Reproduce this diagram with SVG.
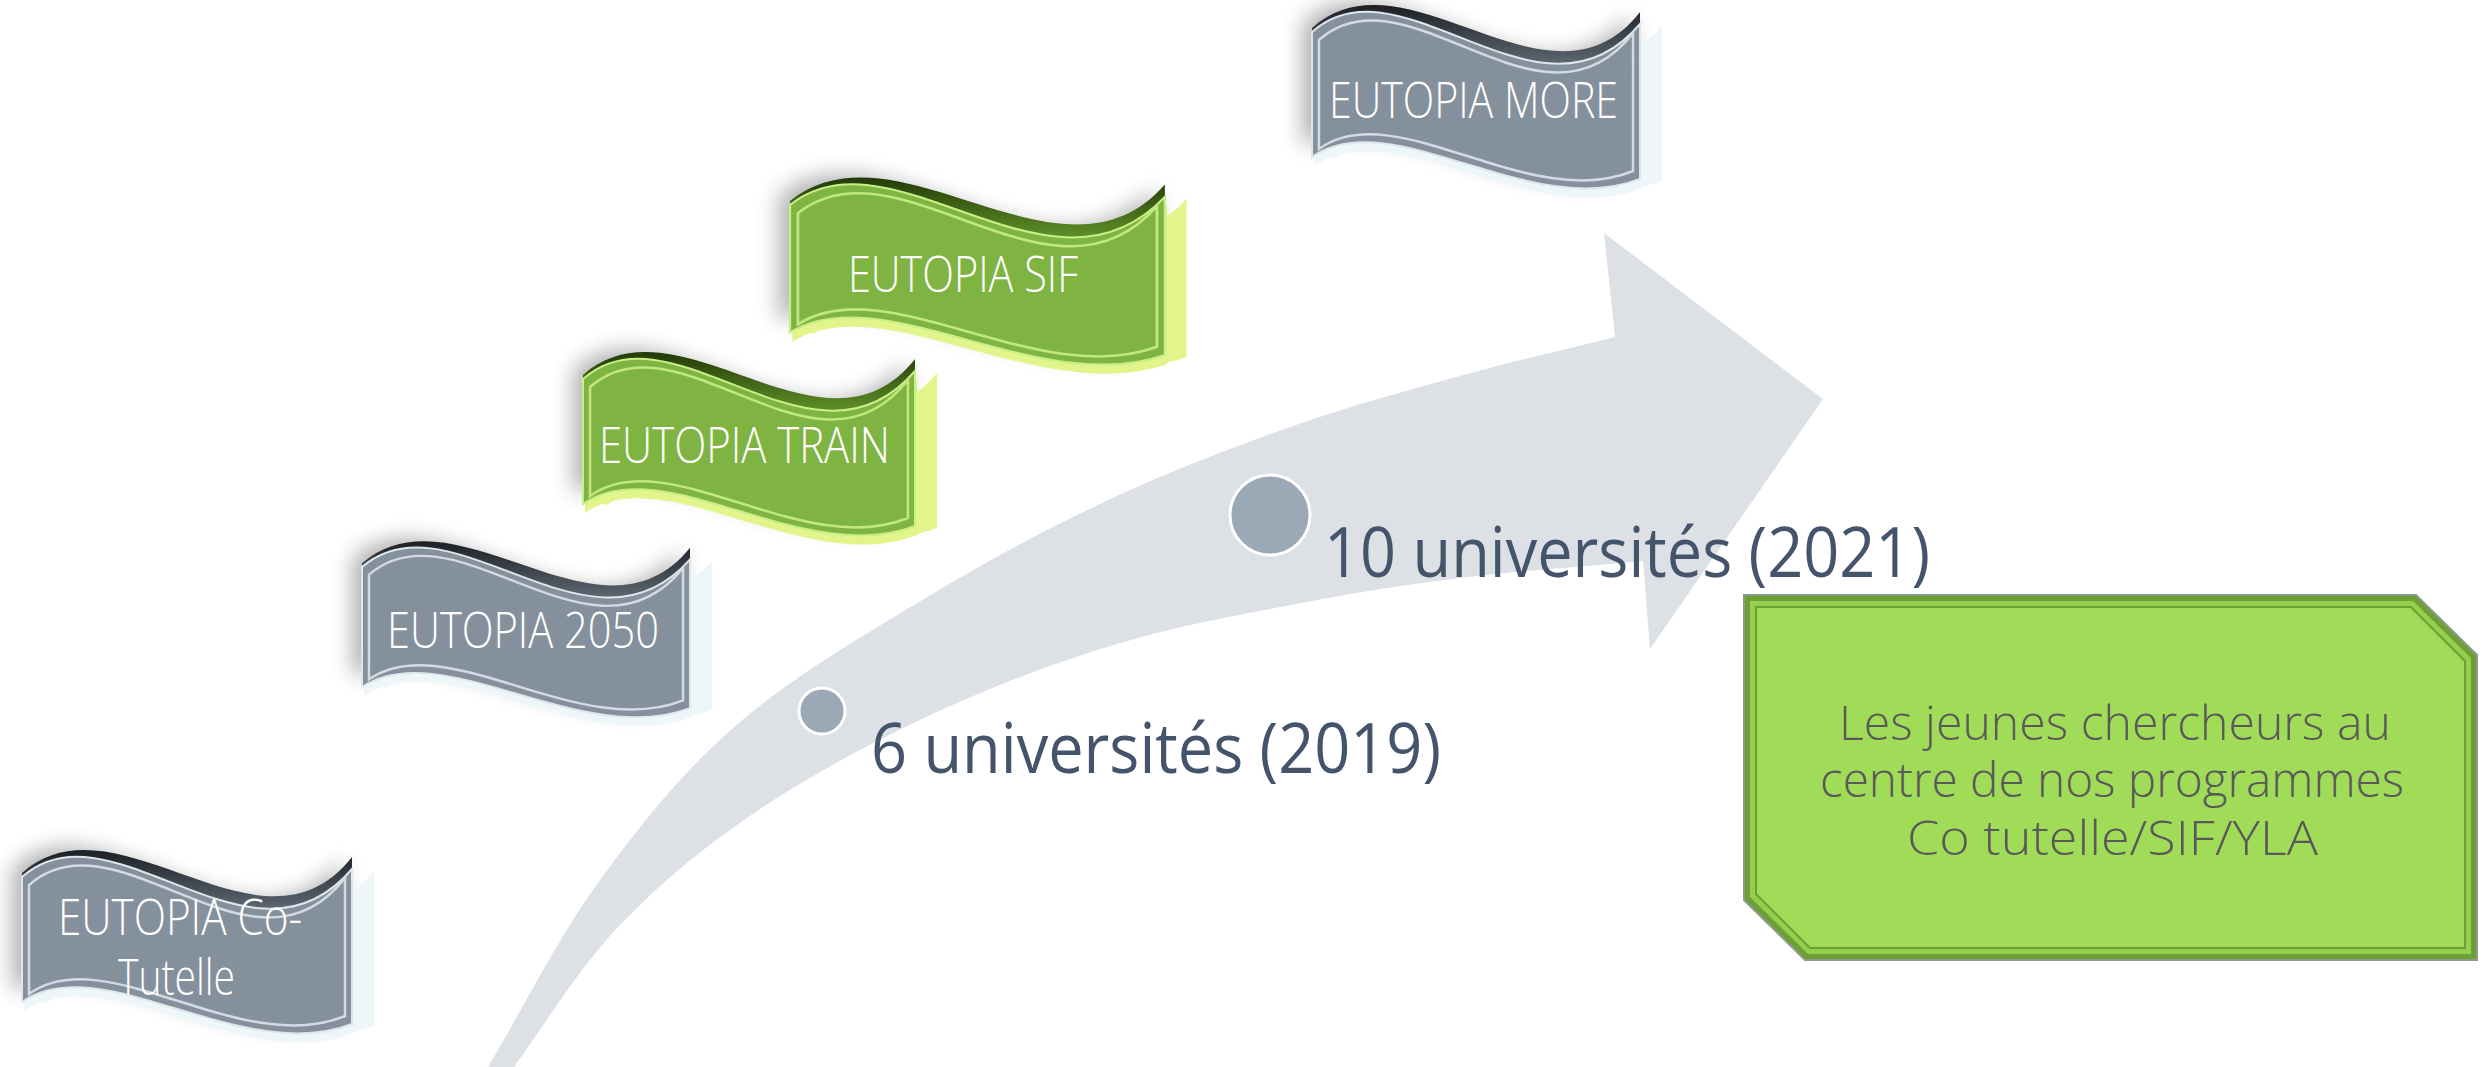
<svg xmlns="http://www.w3.org/2000/svg" xmlns:xlink="http://www.w3.org/1999/xlink" width="2483" height="1067" viewBox="0 0 2483 1067">
<defs>
  <path id="bf" d="M0,0 C90,-80 230,110 330,-8 L330,147 C220,190 80,70 0,125 Z"/>
  <path id="bt" d="M0,-4 C95,-88 240,95 330,-20 L330,-8 C230,110 90,-80 0,0 Z"/>
  <path id="bi" d="M7,8 C95,-70 232,118 323,1 L323,139 C218,182 84,62 7,117 Z"/>
  <filter id="blur" x="-20%" y="-30%" width="140%" height="160%"><feGaussianBlur stdDeviation="11"/></filter>
  <linearGradient id="darkG" x1="0" y1="0" x2="0" y2="1"><stop offset="0" stop-color="#1c2024"/><stop offset="1" stop-color="#5d6772"/></linearGradient>
  <linearGradient id="darkV" x1="0" y1="0" x2="0" y2="1"><stop offset="0" stop-color="#223a08"/><stop offset="1" stop-color="#5f9028"/></linearGradient>
  <style>
    .shadow{fill:#000;opacity:0.32;filter:url(#blur)}
    .g .dark{fill:url(#darkG)}
    .g .side{fill:#eef6f9}
    .g .face{fill:#84909c;stroke:#dfe7ec;stroke-width:2}
    .g .inner{fill:none;stroke:#d3dbe2;stroke-width:2.5}
    .v .dark{fill:url(#darkV)}
    .v .side{fill:#e2f58a}
    .v .face{fill:#7fb443;stroke:#c8ee86;stroke-width:2}
    .v .inner{fill:none;stroke:#c2e77e;stroke-width:2.5}
    .lbl{font-family:"Open Sans","Liberation Sans",sans-serif;font-weight:300;font-size:50px;fill:#ffffff}
    .uni{font-family:"Open Sans","Liberation Sans",sans-serif;fill:#44546a}
    .box{font-family:"Open Sans","Liberation Sans",sans-serif;font-weight:300;font-size:48px;fill:#595959}
    .dot{fill:#9aa9b5;stroke:#ffffff;stroke-width:3}
  </style>
</defs>
<rect width="2483" height="1067" fill="#ffffff"/>

<g id="connectors">
  <path id="arrow" fill="#dde1e6" d="M488,1067 C525,1005 558,937.5 600,880 C642,822.5 683.5,770.3 740,722 C796.5,673.7 876.2,627.7 939,590 C1001.8,552.3 1057.5,523.5 1117,496 C1176.5,468.5 1238.8,445 1296,425 C1353.2,405 1406.8,390.7 1460,376 C1513.2,361.3 1563.3,350 1615,337 L1604,233 L1823,399 L1650,649 L1643,561 C1582,566.7 1517.8,570.8 1460,578 C1402.2,585.2 1353.2,593 1296,604 C1238.8,615 1176.5,626.2 1117,644 C1057.5,661.8 998.5,683.5 939,711 C879.5,738.5 813.2,773.3 760,809 C706.8,844.7 661,882 620,925 C579,968 548,1019.7 514,1067 Z"/>
</g>

<g id="milestone-2019">
  <circle class="dot" cx="822" cy="711" r="23"/>
  <text class="uni" x="871" y="773" font-size="69" textLength="570" lengthAdjust="spacingAndGlyphs">6 universités (2019)</text>
</g>
<g id="milestone-2021">
  <circle class="dot" cx="1270" cy="515" r="40"/>
  <text class="uni" x="1324" y="577" font-size="70" textLength="606" lengthAdjust="spacingAndGlyphs">10 universités (2021)</text>
</g>

<g id="banner-cotutelle" class="g">
  <g transform="translate(22,877)">
    <use href="#bf" class="shadow" transform="translate(-9,-9)"/>
    <use href="#bf" class="side" transform="translate(22,2)"/>
    <use href="#bf" class="side" transform="translate(2,9)"/>
    <use href="#bt" class="dark"/>
    <use href="#bf" class="face"/>
    <use href="#bi" class="inner"/>
  </g>
  <text class="lbl" x="58" y="935" textLength="244" lengthAdjust="spacingAndGlyphs">EUTOPIA Co-</text>
  <text class="lbl" x="118" y="995" textLength="117" lengthAdjust="spacingAndGlyphs">Tutelle</text>
</g>

<g id="banner-2050" class="g">
  <g transform="translate(362,567) scale(0.994,0.96)">
    <use href="#bf" class="shadow" transform="translate(-9,-9)"/>
    <use href="#bf" class="side" transform="translate(22,2)"/>
    <use href="#bf" class="side" transform="translate(2,9)"/>
    <use href="#bt" class="dark"/>
    <use href="#bf" class="face"/>
    <use href="#bi" class="inner"/>
  </g>
  <text class="lbl" x="387" y="648" textLength="272" lengthAdjust="spacingAndGlyphs">EUTOPIA 2050</text>
</g>

<g id="banner-train" class="v">
  <g transform="translate(583,379) scale(1.006,1.0)">
    <use href="#bf" class="shadow" transform="translate(-9,-9)"/>
    <use href="#bf" class="side" transform="translate(22,2)"/>
    <use href="#bf" class="side" transform="translate(2,9)"/>
    <use href="#bt" class="dark"/>
    <use href="#bf" class="face"/>
    <use href="#bi" class="inner"/>
  </g>
  <text class="lbl" x="599" y="463" textLength="291" lengthAdjust="spacingAndGlyphs">EUTOPIA TRAIN</text>
</g>

<g id="banner-sif" class="v">
  <g transform="translate(790,205) scale(1.136,1.02)">
    <use href="#bf" class="shadow" transform="translate(-9,-9)"/>
    <use href="#bf" class="side" transform="translate(19,2)"/>
    <use href="#bf" class="side" transform="translate(2,9)"/>
    <use href="#bt" class="dark"/>
    <use href="#bf" class="face"/>
    <use href="#bi" class="inner"/>
  </g>
  <text class="lbl" x="848" y="292" textLength="230" lengthAdjust="spacingAndGlyphs">EUTOPIA SIF</text>
</g>

<g id="banner-more" class="g">
  <g transform="translate(1312,32) scale(0.994,1.0)">
    <use href="#bf" class="shadow" transform="translate(-9,-9)"/>
    <use href="#bf" class="side" transform="translate(22,2)"/>
    <use href="#bf" class="side" transform="translate(2,9)"/>
    <use href="#bt" class="dark"/>
    <use href="#bf" class="face"/>
    <use href="#bi" class="inner"/>
  </g>
  <text class="lbl" x="1329" y="118" textLength="289" lengthAdjust="spacingAndGlyphs">EUTOPIA MORE</text>
</g>

<g id="box">
  <polygon points="1744,595 2416,595 2477,655 2477,960 1805,960 1744,900" fill="#6e9f36" stroke="#8c9a8a" stroke-width="2"/>
  <polygon points="1750,601 2413,601 2471,658 2471,954 1808,954 1750,897" fill="#94cf4d"/>
  <polygon points="1756,607 2411,607 2465,661 2465,948 1810,948 1756,894" fill="#a0dc58" stroke="#6f9f34" stroke-width="2"/>
  <text class="box" x="1839" y="740" textLength="552" lengthAdjust="spacingAndGlyphs">Les jeunes chercheurs au</text>
  <text class="box" x="1820" y="797" textLength="584" lengthAdjust="spacingAndGlyphs">centre de nos programmes</text>
  <text class="box" x="1907" y="855" textLength="411" lengthAdjust="spacingAndGlyphs">Co tutelle/SIF/YLA</text>
</g>
</svg>
